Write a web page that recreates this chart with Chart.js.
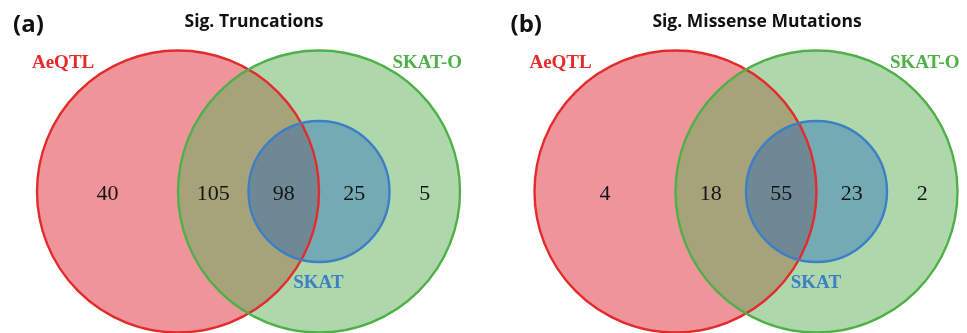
<!DOCTYPE html>
<html>
<head>
<meta charset="utf-8">
<script src="https://cdn.jsdelivr.net/npm/chart.js@4"></script>
<style>
  html, body { margin: 0; padding: 0; background: #fff; }
  #wrap { display: flex; width: 967px; height: 333px; }
  canvas { display: block; }
</style>
</head>
<body>
<div id="wrap">
  <canvas id="vennA" width="483" height="333"></canvas>
  <canvas id="vennB" width="484" height="333"></canvas>
</div>
<script>
// ---- data ----
const setNames = ['AeQTL', 'SKAT-O', 'SKAT'];
const regionNames = ['AeQTL only', 'AeQTL & SKAT-O', 'AeQTL & SKAT-O & SKAT', 'SKAT-O & SKAT', 'SKAT-O only'];
const truncationCounts = [40, 105, 98, 25, 5];
const missenseCounts = [4, 18, 55, 23, 2];
const panelTitles = ['Sig. Truncations', 'Sig. Missense Mutations'];
const panelTags = ['(a)', '(b)'];

// ---- layout (in circle-radius units) ----
const circleCenters = [[0, 0], [1, 0], [1, 0]];
const circleRadii = [1, 1, 0.5];
const circleFills = ['rgba(225,41,55,0.5)', 'rgba(93,177,89,0.5)', 'rgba(21,95,193,0.38)'];
const circleStrokes = ['#e42b2b', '#4fb048', '#3d7fc6'];
const regionX = [-0.5, 0.25, 0.75, 1.25, 1.75];
const regionY = -0.06;
const setLabelPos = [[-0.815, 0.876], [1.768, 0.876], [0.996, -0.684]];
const tagPos = [-1.17, 1.133];
const titleY = 1.165;
const titleX = [0.539, 0.578];
const views = [
  { xMin: -1.2624, xMax: 2.1631, yMin: -1.0035, yMax: 1.3582 },
  { xMin: -1.3652, xMax: 2.0674, yMin: -1.0035, yMax: 1.3582 }
];

function radiusInPixels(ctx) {
  const raw = ctx.raw;
  if (!raw || raw.rad === undefined) return 0;
  const sx = ctx.chart.scales.x;
  return Math.abs(sx.getPixelForValue(raw.x + raw.rad) - sx.getPixelForValue(raw.x));
}

const circlePoints = circleCenters.map((c, i) => ({ x: c[0], y: c[1], rad: circleRadii[i] }));

// text drawn in scale coordinates
const vennText = {
  id: 'vennText',
  afterDatasetsDraw(chart, args, opts) {
    const { ctx, scales } = chart;
    ctx.save();
    ctx.textBaseline = 'alphabetic';
    opts.items.forEach(t => {
      ctx.font = t.font;
      ctx.fillStyle = t.color;
      ctx.textAlign = t.align || 'center';
      ctx.fillText(t.text, scales.x.getPixelForValue(t.x), scales.y.getPixelForValue(t.y));
    });
    ctx.restore();
  }
};

function buildVenn(canvasId, idx, counts) {
  const v = views[idx];
  const items = [];
  items.push({ text: panelTags[idx], x: tagPos[0], y: tagPos[1], font: 'bold 24px "Open Sans"', color: '#111', align: 'left' });
  items.push({ text: panelTitles[idx], x: titleX[idx], y: titleY, font: 'bold 17.5px "Open Sans"', color: '#111' });
  setNames.forEach((n, i) => items.push({
    text: n, x: setLabelPos[i][0], y: setLabelPos[i][1],
    font: 'bold 19px "Liberation Serif"', color: circleStrokes[i]
  }));
  counts.forEach((c, i) => items.push({
    text: String(c), x: regionX[i], y: regionY,
    font: '22px "Liberation Serif"', color: '#151515'
  }));

  new Chart(document.getElementById(canvasId), {
    type: 'scatter',
    data: {
      datasets: [
        {
          label: 'outlines',
          order: 0,
          data: circlePoints,
          pointRadius: radiusInPixels,
          pointHoverRadius: radiusInPixels,
          pointBackgroundColor: 'rgba(0,0,0,0)',
          pointBorderColor: circleStrokes,
          pointBorderWidth: 2.4,
          clip: false
        },
        {
          label: 'fills',
          order: 1,
          data: circlePoints,
          pointRadius: radiusInPixels,
          pointHoverRadius: radiusInPixels,
          pointBackgroundColor: circleFills,
          pointBorderWidth: 0,
          pointBorderColor: 'rgba(0,0,0,0)',
          clip: false
        }
      ]
    },
    options: {
      responsive: false,
      animation: false,
      events: [],
      layout: { padding: 0 },
      scales: {
        x: { type: 'linear', display: false, min: v.xMin, max: v.xMax },
        y: { type: 'linear', display: false, min: v.yMin, max: v.yMax }
      },
      plugins: {
        legend: { display: false },
        tooltip: { enabled: false },
        vennText: { items }
      }
    },
    plugins: [vennText]
  });
}

buildVenn('vennA', 0, truncationCounts);
buildVenn('vennB', 1, missenseCounts);
</script>
</body>
</html>
